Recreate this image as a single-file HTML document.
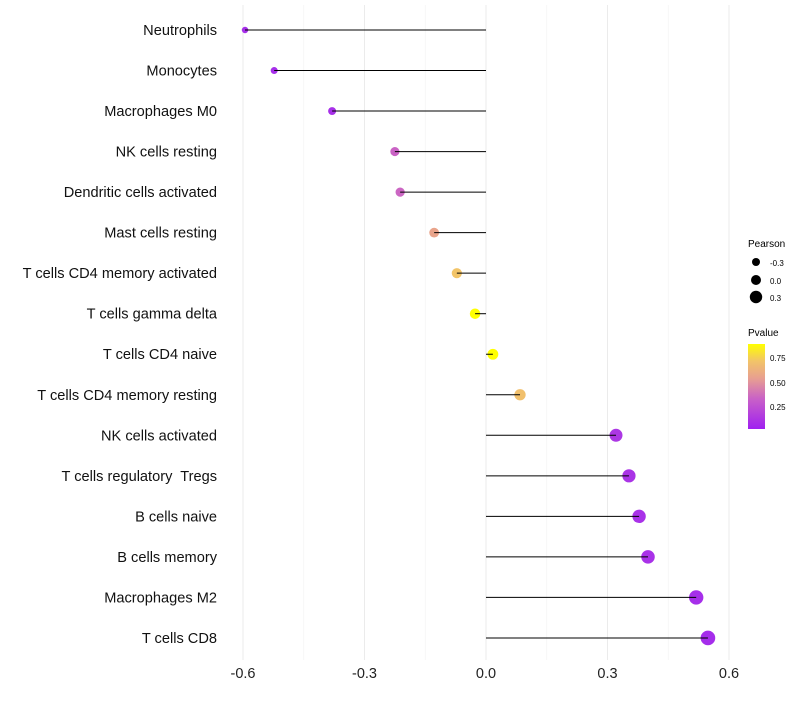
<!DOCTYPE html>
<html><head><meta charset="utf-8"><style>
body{margin:0;background:#fff;font-family:"Liberation Sans",sans-serif}
</style></head><body>
<svg id="c" width="800" height="700" xmlns="http://www.w3.org/2000/svg">
<defs><linearGradient id="pg" x1="0" y1="1" x2="0" y2="0">
<stop offset="0" stop-color="#A020F0"/><stop offset="0.35" stop-color="#C860C8"/><stop offset="0.6" stop-color="#E8A090"/><stop offset="0.8" stop-color="#F2C468"/><stop offset="1" stop-color="#FFFF00"/></linearGradient></defs>
<g id="grid"></g><g id="marks"></g><g id="labels"></g>
<g font-size="10">
<text x="748" y="247">Pearson</text>
<circle cx="756" cy="262" r="4" fill="#000"/><text x="770" y="266" font-size="8">-0.3</text>
<circle cx="756" cy="280" r="5" fill="#000"/><text x="770" y="284" font-size="8">0.0</text>
<circle cx="756" cy="297" r="6.2" fill="#000"/><text x="770" y="301" font-size="8">0.3</text>
</g>
<g>
<text x="748" y="336" font-size="10">Pvalue</text>
<rect x="748" y="344" width="17" height="85" fill="url(#pg)"/>
<text x="770" y="361" font-size="8">0.75</text><text x="770" y="386" font-size="8">0.50</text><text x="770" y="410" font-size="8">0.25</text>
</g>
</svg>
<script>
const categories=["Neutrophils","Monocytes","Macrophages M0","NK cells resting","Dendritic cells activated","Mast cells resting","T cells CD4 memory activated","T cells gamma delta","T cells CD4 naive","T cells CD4 memory resting","NK cells activated","T cells regulatory\u00a0 Tregs","B cells naive","B cells memory","Macrophages M2","T cells CD8"];
const pearson=[-0.595,-0.523,-0.380,-0.225,-0.212,-0.128,-0.072,-0.027,0.017,0.084,0.321,0.353,0.378,0.400,0.519,0.548];
const pvalue=[0.03,0.03,0.04,0.33,0.34,0.55,0.7,0.95,0.97,0.68,0.08,0.06,0.05,0.05,0.03,0.02];
const xTicks=[-0.6,-0.3,0.0,0.3,0.6];
const xTickLabels=["-0.6","-0.3","0.0","0.3","0.6"];
const NS="http://www.w3.org/2000/svg";
const X=v=>486+v*405, Y=i=>30+i*40.53;
const R=v=>Math.max(2,5.35+3.56*v);
const stops=[[0.02,[165,45,235]],[0.32,[200,96,200]],[0.53,[232,160,144]],[0.7,[242,196,104]],[0.87,[255,255,0]]];
function col(p){if(p<=stops[0][0])return stops[0][1];for(let i=1;i<stops.length;i++){if(p<=stops[i][0]){const a=stops[i-1],b=stops[i],t=(p-a[0])/(b[0]-a[0]);return a[1].map((c,k)=>Math.round(c+(b[1][k]-c)*t));}}return stops[stops.length-1][1];}
function mk(t,a,p){const e=document.createElementNS(NS,t);for(const k in a)e.setAttribute(k,a[k]);p.appendChild(e);return e;}
const g=document.getElementById('grid'),m=document.getElementById('marks'),l=document.getElementById('labels');
[-0.45,-0.15,0.15,0.45].forEach(v=>{const e=mk('line',{x1:X(v),x2:X(v),y1:5,y2:660,stroke:'#f3f3f3','stroke-width':0.8},g);

});
xTicks.forEach((v,i)=>{const e=mk('line',{x1:X(v),x2:X(v),y1:5,y2:660,stroke:'#ebebeb','stroke-width':1},g);


const t=mk('text',{x:X(v),y:678,'text-anchor':'middle','font-size':14.5,fill:'#222'},l);t.textContent=xTickLabels[i];

});
categories.forEach((c,i)=>{const v=pearson[i],y=Y(i);
const t=mk('text',{x:217,y:y+5,'text-anchor':'end','font-size':14.6,fill:'#111'},l);t.textContent=c;


const cc=col(pvalue[i]);
const d=mk('circle',{cx:X(v),cy:y,r:R(v),fill:`rgb(${cc.join(',')})`},m);


const ln=mk('line',{x1:X(0),x2:X(v),y1:y,y2:y,stroke:'#000','stroke-width':1},m);

});
</script>
</body></html>
